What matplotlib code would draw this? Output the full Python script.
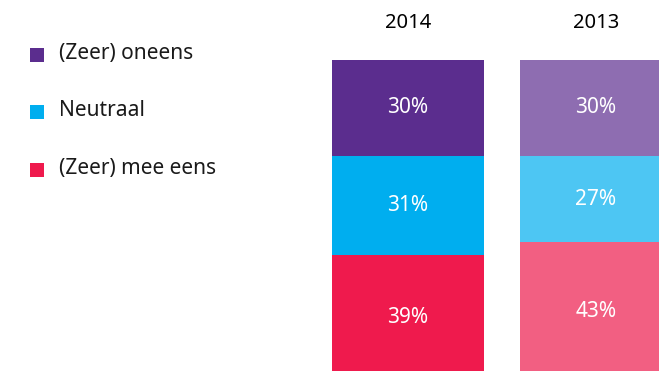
import matplotlib.pyplot as plt

years = ["2014", "2013"]
categories = ["(Zeer) oneens", "Neutraal", "(Zeer) mee eens"]
oneens = [30, 30]
neutraal = [31, 27]
mee_eens = [39, 43]

colors_2014 = ["#5B2D8E", "#00AEEF", "#EF1A4D"]
colors_2013 = ["#8E6DB1", "#4DC6F3", "#F25F82"]

plt.rcParams["font.family"] = ["Noto Sans", "DejaVu Sans"]

fig = plt.figure(figsize=(6.59, 3.71), dpi=100)
ax = fig.add_axes([0, 0, 1, 1])
ax.set_xlim(0, 659)
# bars run past the bottom edge of the figure
ax.set_ylim(2.8, 118.75)
ax.axis("off")

x_pos = [408, 596]
width = 152

# stack from the bottom: mee eens, neutraal, oneens
for i, year in enumerate(years):
    cols = colors_2014 if i == 0 else colors_2013
    vals = [mee_eens[i], neutraal[i], oneens[i]]
    seg_cols = [cols[2], cols[1], cols[0]]
    bottom = 0
    for v, c in zip(vals, seg_cols):
        ax.bar(x_pos[i], v, width=width, bottom=bottom, color=c, linewidth=0)
        ax.text(x_pos[i], bottom + v / 2, f"{v}%", ha="center", va="center",
                color="white", fontsize=15)
        bottom += v
    ax.text(x_pos[i], 111.7, year, ha="center", va="center", color="black",
            fontsize=14.5)

# legend with square markers
leg_y = [101.6, 83.75, 65.6]
for cat, c, y in zip(categories, colors_2014, leg_y):
    ax.scatter(36.5, y, marker="s", s=95, color=c, linewidths=0)
    ax.text(59, y + 0.4, cat, ha="left", va="center", color="#1a1a1a",
            fontsize=15)

fig.savefig("out.png", dpi=100)
